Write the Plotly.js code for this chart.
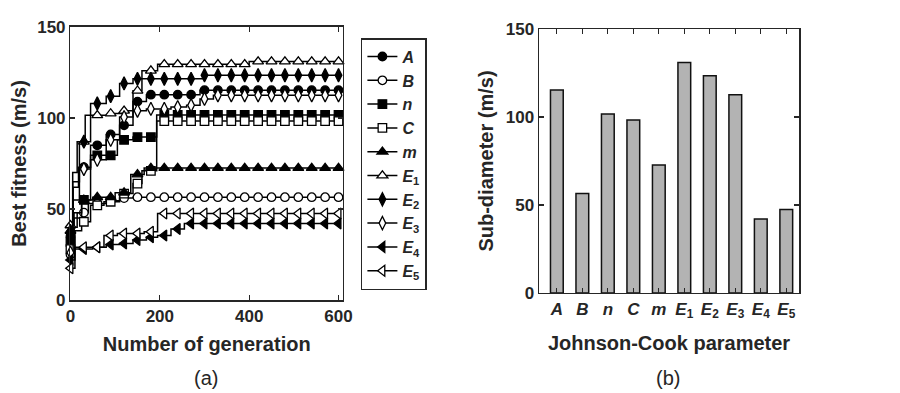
<!DOCTYPE html>
<html>
<head>
<meta charset="utf-8">
<script src="https://cdn.plot.ly/plotly-3.0.1.min.js"></script>
<style>
  html, body { margin: 0; padding: 0; background: #fff; }
  #plot { width: 900px; height: 393px; }
</style>
</head>
<body>
<div id="plot"></div>
<script>
// generations at which the markers sit
var gen = [0, 30, 60, 90, 120, 150, 180, 210, 240, 270, 300, 330, 360, 390, 420, 450, 480, 510, 540, 570, 600];

// best fitness (m/s) read at the marker generations
var mkA  = [35, 73, 85, 91, 96, 109, 112.8, 112.8, 112.8, 112.8, 115.3, 115.3, 115.3, 115.3, 115.3, 115.3, 115.3, 115.3, 115.3, 115.3, 115.3];
var mkB  = [25, 48, 53, 54.5, 56, 56.5, 56.5, 56.5, 56.5, 56.5, 56.5, 56.5, 56.5, 56.5, 56.5, 56.5, 56.5, 56.5, 56.5, 56.5, 56.5];
var mkN  = [32, 55, 79.5, 79.5, 88, 89.5, 89.5, 101.7, 101.7, 101.7, 101.7, 101.7, 101.7, 101.7, 101.7, 101.7, 101.7, 101.7, 101.7, 101.7, 101.7];
var mkC  = [28, 43, 52, 54, 58.5, 64, 71, 98.3, 98.3, 98.3, 98.3, 98.3, 98.3, 98.3, 98.3, 98.3, 98.3, 98.3, 98.3, 98.3, 98.3];
var mkM  = [38, 55, 56.5, 56.5, 59, 69, 72.5, 72.5, 72.5, 72.5, 72.5, 72.5, 72.5, 72.5, 72.5, 72.5, 72.5, 72.5, 72.5, 72.5, 72.5];
var mkE1 = [41, 87, 101.5, 102.5, 104, 115, 126, 129.5, 129.5, 129.5, 129.5, 129.5, 129.5, 129.5, 131, 131, 131, 131, 131, 131, 131];
var mkE2 = [38, 87, 108, 112, 119, 121.5, 121.5, 121.5, 121.5, 121.5, 123.5, 123.5, 123.5, 123.5, 123.5, 123.5, 123.5, 123.5, 123.5, 123.5, 123.5];
var mkE3 = [26, 72, 77, 88, 100.5, 104, 105, 105, 106, 107, 110.5, 112.5, 112.5, 112.5, 112.5, 112.5, 112.5, 112.5, 112.5, 112.5, 112.5];
var mkE4 = [22, 28, 29, 30.5, 31, 33, 34.5, 35.5, 39, 42, 42, 42, 42, 42, 42, 42, 42, 42, 42, 42, 42];
var mkE5 = [17.5, 29, 29, 35.5, 36.5, 36.5, 37.5, 47.5, 47.5, 47.5, 47.5, 47.5, 47.5, 47.5, 47.5, 47.5, 47.5, 47.5, 47.5, 47.5, 47.5];

// step changes of the best-fitness curves (generation, value)
var stA_x  = [0, 6, 18, 45, 80, 110, 140, 170, 290, 600];
var stA_y  = [35, 62, 73, 85, 91, 96, 109, 112.8, 115.3, 115.3];
var stB_x  = [0, 5, 15, 40, 80, 110, 140, 600];
var stB_y  = [25, 40, 48, 53, 54.5, 56, 56.5, 56.5];
var stN_x  = [0, 8, 25, 45, 105, 140, 193, 600];
var stN_y  = [32, 45, 55, 79.5, 88, 89.5, 101.7, 101.7];
var stC_x  = [0, 10, 25, 45, 75, 110, 140, 160, 193, 600];
var stC_y  = [28, 38, 43, 52, 54, 58.5, 64, 71, 98.3, 98.3];
var stM_x  = [0, 8, 25, 50, 100, 135, 165, 600];
var stM_y  = [38, 48, 55, 56.5, 59, 69, 72.5, 72.5];
var stE1_x = [0, 5, 15, 33, 90, 115, 140, 160, 195, 400, 600];
var stE1_y = [41, 70, 87, 101.5, 102.5, 104, 115, 126, 129.5, 131, 131];
var stE2_x = [0, 5, 20, 45, 80, 110, 140, 300, 600];
var stE2_y = [38, 65, 87, 108, 112, 119, 121.5, 123.5, 123.5];
var stE3_x = [0, 6, 20, 45, 80, 110, 140, 170, 225, 260, 290, 320, 600];
var stE3_y = [26, 55, 72, 77, 88, 100.5, 104, 105, 106, 107, 110.5, 112.5, 112.5];
var stE4_x = [0, 10, 50, 80, 110, 140, 170, 195, 225, 255, 600];
var stE4_y = [22, 28, 29, 30.5, 31, 33, 34.5, 35.5, 39, 42, 42];
var stE5_x = [0, 10, 75, 105, 165, 195, 600];
var stE5_y = [17.5, 29, 35.5, 36.5, 37.5, 47.5, 47.5];

// Johnson-Cook parameters and their sub-diameters
var params = ['<i>A</i>', '<i>B</i>', '<i>n</i>', '<i>C</i>', '<i>m</i>',
              '<i>E</i><sub>1</sub>', '<i>E</i><sub>2</sub>', '<i>E</i><sub>3</sub>', '<i>E</i><sub>4</sub>', '<i>E</i><sub>5</sub>'];
var paramPos = [1, 2, 3, 4, 5, 6, 7, 8, 9, 10];
var subDiameter = [115.3, 56.5, 101.7, 98.3, 72.7, 131, 123.5, 112.7, 42, 47.5];

var ink = '#262626';
var fam = 'Liberation Sans, Arial, Helvetica, sans-serif';

var series = [
  {name: params[0], sx: stA_x,  sy: stA_y,  mk: mkA,  sym: 'circle',        filled: true},
  {name: params[1], sx: stB_x,  sy: stB_y,  mk: mkB,  sym: 'circle',        filled: false},
  {name: params[2], sx: stN_x,  sy: stN_y,  mk: mkN,  sym: 'square',        filled: true},
  {name: params[3], sx: stC_x,  sy: stC_y,  mk: mkC,  sym: 'square',        filled: false},
  {name: params[4], sx: stM_x,  sy: stM_y,  mk: mkM,  sym: 'triangle-up',   filled: true},
  {name: params[5], sx: stE1_x, sy: stE1_y, mk: mkE1, sym: 'triangle-up',   filled: false},
  {name: params[6], sx: stE2_x, sy: stE2_y, mk: mkE2, sym: 'diamond-tall',  filled: true},
  {name: params[7], sx: stE3_x, sy: stE3_y, mk: mkE3, sym: 'diamond-tall',  filled: false},
  {name: params[8], sx: stE4_x, sy: stE4_y, mk: mkE4, sym: 'triangle-left', filled: true},
  {name: params[9], sx: stE5_x, sy: stE5_y, mk: mkE5, sym: 'triangle-left', filled: false}
];

// marker size per symbol family
function markSize(sym) {
  if (sym.indexOf('triangle') === 0) return 9.5;
  if (sym.indexOf('diamond') === 0) return 9.5;
  return 8.5;
}

var traces = [];

for (var i = 0; i < series.length; i++) {
  var s = series[i];
  var mark = {
    symbol: s.sym,
    size: markSize(s.sym),
    color: s.filled ? '#000' : '#fff',
    line: {color: '#000', width: 1.3}
  };
  // stepped line
  traces.push({
    x: s.sx, y: s.sy, xaxis: 'x', yaxis: 'y',
    mode: 'lines', line: {color: '#000', width: 1.5, shape: 'hv'},
    showlegend: false, hoverinfo: 'skip'
  });
  // markers
  traces.push({
    x: gen, y: s.mk, xaxis: 'x', yaxis: 'y',
    mode: 'markers', marker: mark, cliponaxis: false,
    showlegend: false
  });
  // legend entry only
  traces.push({
    x: [null], y: [null], xaxis: 'x', yaxis: 'y',
    name: s.name, mode: 'lines+markers',
    line: {color: '#000', width: 1.5}, marker: mark
  });
}

traces.push({
  type: 'bar', x: paramPos, y: subDiameter, xaxis: 'x2', yaxis: 'y2',
  width: 0.5, showlegend: false,
  marker: {color: 'rgb(179,179,179)', line: {color: '#111', width: 1.5}}
});

function axisStyle(extra) {
  var a = {
    showline: true, linecolor: ink, linewidth: 1.5, mirror: 'ticks',
    ticks: 'inside', ticklen: 5, tickwidth: 1.3, tickcolor: ink,
    showgrid: false, zeroline: false, fixedrange: true,
    tickfont: {family: fam, size: 17, weight: 'bold', color: ink}
  };
  for (var k in extra) a[k] = extra[k];
  return a;
}

var titleFont = {family: fam, size: 20, weight: 'bold', color: ink};

var layout = {
  width: 900, height: 393, autosize: false,
  margin: {l: 0, r: 0, t: 0, b: 0},
  paper_bgcolor: '#fff', plot_bgcolor: '#fff',
  showlegend: true,
  xaxis: axisStyle({
    domain: [0.0783, 0.3811], range: [0, 610], anchor: 'y',
    tickvals: [0, 200, 400, 600],
    title: {text: 'Number of generation', font: titleFont, standoff: 12}
  }),
  yaxis: axisStyle({
    domain: [0.2366, 0.9313], range: [0, 150], anchor: 'x',
    tickvals: [0, 50, 100, 150],
    title: {text: 'Best fitness (m/s)', font: titleFont, standoff: 5}
  }),
  xaxis2: axisStyle({
    domain: [0.5989, 0.8878], range: [0.3, 10.5], anchor: 'y2',
    tickvals: paramPos, ticktext: params,
    title: {text: 'Johnson-Cook parameter', font: titleFont, standoff: 15}
  }),
  yaxis2: axisStyle({
    domain: [0.2545, 0.9262], range: [0, 150], anchor: 'x2',
    tickvals: [0, 50, 100, 150],
    title: {text: 'Sub-diameter (m/s)', font: titleFont, standoff: 6}
  }),
  legend: {
    x: 0.401, y: 0.903, xanchor: 'left', yanchor: 'top',
    bgcolor: '#fff', bordercolor: ink, borderwidth: 1.5,
    font: {family: fam, size: 16, weight: 'bold', color: ink},
    itemwidth: 30, tracegroupgap: 0
  },
  annotations: [
    {text: '(a)', x: 0.2294, y: 0.038, xref: 'paper', yref: 'paper',
     xanchor: 'center', yanchor: 'middle', showarrow: false,
     font: {family: fam, size: 20, color: ink}},
    {text: '(b)', x: 0.742, y: 0.038, xref: 'paper', yref: 'paper',
     xanchor: 'center', yanchor: 'middle', showarrow: false,
     font: {family: fam, size: 20, color: ink}}
  ]
};

Plotly.newPlot('plot', traces, layout, {staticPlot: true, displayModeBar: false});
</script>
</body>
</html>
